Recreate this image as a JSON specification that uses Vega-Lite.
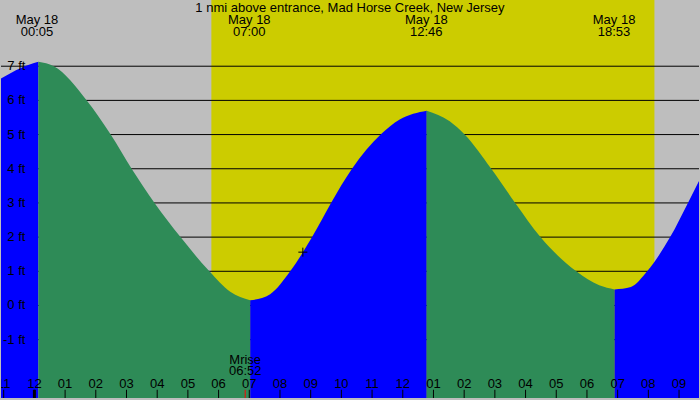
{
  "$schema": "https://vega.github.io/schema/vega-lite/v6.json",
  "width": 700,
  "height": 400,
  "autosize": {"type": "fit", "contains": "padding"},
  "padding": 0,
  "background": "#bebebe",
  "config": {
    "view": {"stroke": null, "fill": "#bebebe"},
    "text": {"font": "Liberation Sans", "fontSize": 13, "color": "black"}
  },
  "datasets": {
    "daylight": [{"start": 5.765, "end": 20.198}],
    "levels": [
      {"ft": -1, "label": "-1 ft"}, {"ft": 0, "label": "0 ft"}, {"ft": 1, "label": "1 ft"},
      {"ft": 2, "label": "2 ft"}, {"ft": 3, "label": "3 ft"}, {"ft": 4, "label": "4 ft"},
      {"ft": 5, "label": "5 ft"}, {"ft": 6, "label": "6 ft"}, {"ft": 7, "label": "7 ft"}
    ],
    "tide": [
      {"h": -1.088, "ft": 6.64, "seg": "a", "phase": "rising"},
      {"h": -0.44, "ft": 6.95, "seg": "a", "phase": "rising"},
      {"h": 0.13, "ft": 7.13, "seg": "a", "phase": "rising"},
      {"h": 0.13, "ft": 7.13, "seg": "b", "phase": "falling"},
      {"h": 0.633, "ft": 7.0, "seg": "b", "phase": "falling"},
      {"h": 1.705, "ft": 6.0, "seg": "b", "phase": "falling"},
      {"h": 2.485, "ft": 5.0, "seg": "b", "phase": "falling"},
      {"h": 3.167, "ft": 4.0, "seg": "b", "phase": "falling"},
      {"h": 3.914, "ft": 3.0, "seg": "b", "phase": "falling"},
      {"h": 4.759, "ft": 2.0, "seg": "b", "phase": "falling"},
      {"h": 5.701, "ft": 1.0, "seg": "b", "phase": "falling"},
      {"h": 6.38, "ft": 0.4, "seg": "b", "phase": "falling"},
      {"h": 7.03, "ft": 0.15, "seg": "b", "phase": "falling"},
      {"h": 7.03, "ft": 0.15, "seg": "c", "phase": "rising"},
      {"h": 7.68, "ft": 0.33, "seg": "c", "phase": "rising"},
      {"h": 8.332, "ft": 1.0, "seg": "c", "phase": "rising"},
      {"h": 9.046, "ft": 2.0, "seg": "c", "phase": "rising"},
      {"h": 9.663, "ft": 3.0, "seg": "c", "phase": "rising"},
      {"h": 10.346, "ft": 4.0, "seg": "c", "phase": "rising"},
      {"h": 11.278, "ft": 5.0, "seg": "c", "phase": "rising"},
      {"h": 11.9, "ft": 5.44, "seg": "c", "phase": "rising"},
      {"h": 12.78, "ft": 5.7, "seg": "c", "phase": "rising"},
      {"h": 12.78, "ft": 5.7, "seg": "d", "phase": "falling"},
      {"h": 13.529, "ft": 5.39, "seg": "d", "phase": "falling"},
      {"h": 14.016, "ft": 5.0, "seg": "d", "phase": "falling"},
      {"h": 14.883, "ft": 4.0, "seg": "d", "phase": "falling"},
      {"h": 15.663, "ft": 3.0, "seg": "d", "phase": "falling"},
      {"h": 16.485, "ft": 2.0, "seg": "d", "phase": "falling"},
      {"h": 17.654, "ft": 1.0, "seg": "d", "phase": "falling"},
      {"h": 18.4, "ft": 0.59, "seg": "d", "phase": "falling"},
      {"h": 18.9, "ft": 0.47, "seg": "d", "phase": "falling"},
      {"h": 18.9, "ft": 0.47, "seg": "e", "phase": "rising"},
      {"h": 19.43, "ft": 0.54, "seg": "e", "phase": "rising"},
      {"h": 19.96, "ft": 1.0, "seg": "e", "phase": "rising"},
      {"h": 20.71, "ft": 2.0, "seg": "e", "phase": "rising"},
      {"h": 21.29, "ft": 3.0, "seg": "e", "phase": "rising"},
      {"h": 21.65, "ft": 3.64, "seg": "e", "phase": "rising"}
    ],
    "hours": [
      {"h": -1, "label": "11"}, {"h": 0, "label": "12"}, {"h": 1, "label": "01"},
      {"h": 2, "label": "02"}, {"h": 3, "label": "03"}, {"h": 4, "label": "04"},
      {"h": 5, "label": "05"}, {"h": 6, "label": "06"}, {"h": 7, "label": "07"},
      {"h": 8, "label": "08"}, {"h": 9, "label": "09"}, {"h": 10, "label": "10"},
      {"h": 11, "label": "11"}, {"h": 12, "label": "12"}, {"h": 13, "label": "01"},
      {"h": 14, "label": "02"}, {"h": 15, "label": "03"}, {"h": 16, "label": "04"},
      {"h": 17, "label": "05"}, {"h": 18, "label": "06"}, {"h": 19, "label": "07"},
      {"h": 20, "label": "08"}, {"h": 21, "label": "09"}
    ],
    "events": [
      {"h": 0.083, "day": "May 18", "time": "00:05"},
      {"h": 7.0, "day": "May 18", "time": "07:00"},
      {"h": 12.767, "day": "May 18", "time": "12:46"},
      {"h": 18.883, "day": "May 18", "time": "18:53"}
    ],
    "moon": [{"h": 6.867, "name": "Mrise", "time": "06:52"}],
    "now": [{"h": 8.745, "ft": 1.56}],
    "caption": [{"h": 10.28, "text": "1 nmi above entrance, Mad Horse Creek, New Jersey"}]
  },
  "layer": [
    {
      "data": {"name": "daylight"},
      "mark": {"type": "rect", "color": "#cccc00"},
      "encoding": {
        "x": {"field": "start", "type": "quantitative", "axis": null,
              "scale": {"domain": [-1.088, 21.65], "nice": false, "zero": false}},
        "x2": {"field": "end"}
      }
    },
    {
      "data": {"name": "levels"},
      "mark": {"type": "rule", "color": "black", "strokeWidth": 1},
      "encoding": {
        "y": {"field": "ft", "type": "quantitative", "axis": null,
              "scale": {"domain": [-2.707, 8.937], "nice": false, "zero": false}}
      }
    },
    {
      "data": {"name": "tide"},
      "mark": {"type": "area", "interpolate": "monotone", "clip": true},
      "encoding": {
        "x": {"field": "h", "type": "quantitative", "axis": null,
              "scale": {"domain": [-1.088, 21.65], "nice": false, "zero": false}},
        "y": {"field": "ft", "type": "quantitative", "axis": null, "stack": null,
              "scale": {"domain": [-2.707, 8.937], "nice": false, "zero": false}},
        "y2": {"datum": -2.707},
        "detail": {"field": "seg"},
        "color": {"field": "phase", "type": "nominal", "legend": null,
                  "scale": {"domain": ["rising", "falling"], "range": ["#0000ff", "#2e8b57"]}}
      }
    },
    {
      "data": {"name": "levels"},
      "mark": {"type": "text", "align": "right", "baseline": "middle"},
      "encoding": {
        "x": {"datum": -0.292, "type": "quantitative"},
        "y": {"field": "ft", "type": "quantitative"},
        "text": {"field": "label"}
      }
    },
    {
      "data": {"name": "hours"},
      "mark": {"type": "rule", "color": "black", "strokeWidth": 1, "clip": true},
      "encoding": {
        "x": {"field": "h", "type": "quantitative"},
        "y": {"datum": -2.466, "type": "quantitative"},
        "y2": {"datum": -2.707}
      }
    },
    {
      "data": {"name": "hours"},
      "transform": [{"filter": "datum.h == 0"}],
      "mark": {"type": "rule", "color": "black", "strokeWidth": 3},
      "encoding": {
        "x": {"field": "h", "type": "quantitative"},
        "y": {"datum": -2.466, "type": "quantitative"},
        "y2": {"datum": -2.707}
      }
    },
    {
      "data": {"name": "hours"},
      "mark": {"type": "text", "align": "center", "baseline": "alphabetic", "clip": true},
      "encoding": {
        "x": {"field": "h", "type": "quantitative"},
        "y": {"datum": -2.416, "type": "quantitative"},
        "text": {"field": "label"}
      }
    },
    {
      "data": {"name": "moon"},
      "mark": {"type": "rule", "color": "#ff0000", "strokeWidth": 1},
      "encoding": {
        "x": {"field": "h", "type": "quantitative"},
        "y": {"datum": -2.466, "type": "quantitative"},
        "y2": {"datum": -2.707}
      }
    },
    {
      "data": {"name": "moon"},
      "mark": {"type": "text", "align": "center", "baseline": "alphabetic"},
      "encoding": {
        "x": {"field": "h", "type": "quantitative"},
        "y": {"datum": -1.718, "type": "quantitative"},
        "text": {"field": "name"}
      }
    },
    {
      "data": {"name": "moon"},
      "mark": {"type": "text", "align": "center", "baseline": "alphabetic"},
      "encoding": {
        "x": {"field": "h", "type": "quantitative"},
        "y": {"datum": -2.047, "type": "quantitative"},
        "text": {"field": "time"}
      }
    },
    {
      "data": {"name": "events"},
      "mark": {"type": "text", "align": "center", "baseline": "alphabetic"},
      "encoding": {
        "x": {"field": "h", "type": "quantitative"},
        "y": {"datum": 8.23, "type": "quantitative"},
        "text": {"field": "day"}
      }
    },
    {
      "data": {"name": "events"},
      "mark": {"type": "text", "align": "center", "baseline": "alphabetic"},
      "encoding": {
        "x": {"field": "h", "type": "quantitative"},
        "y": {"datum": 7.89, "type": "quantitative"},
        "text": {"field": "time"}
      }
    },
    {
      "data": {"name": "caption"},
      "mark": {"type": "text", "align": "center", "baseline": "alphabetic"},
      "encoding": {
        "x": {"field": "h", "type": "quantitative"},
        "y": {"datum": 8.594, "type": "quantitative"},
        "text": {"field": "text"}
      }
    },
    {
      "data": {"name": "now"},
      "mark": {"type": "point", "shape": "M-1,0H1M0,-1V1", "filled": false, "stroke": "black", "strokeWidth": 1, "size": 81, "opacity": 1},
      "encoding": {
        "x": {"field": "h", "type": "quantitative"},
        "y": {"field": "ft", "type": "quantitative"}
      }
    }
  ]
}
